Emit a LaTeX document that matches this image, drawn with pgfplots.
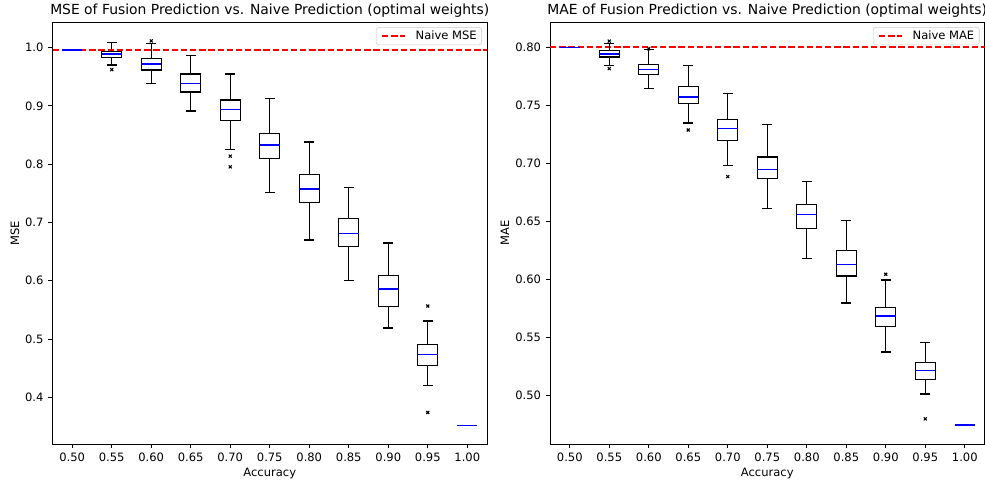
\documentclass[border=0pt]{standalone}
\usepackage{pgfplots}
\pgfplotsset{compat=1.18}
\usepgfplotslibrary{statistics}
\usepackage{fontspec}
\setmainfont{DejaVu Sans}

% one px of the 985x484 reference = 0.72pt
\newcommand{\tickfont}{\fontsize{8.3}{10}\selectfont}
\pgfplotsset{
  panel/.style={
    scale only axis, width=312.84pt, height=303.84pt,
    xmin=-0.5, xmax=10.5,
    xtick={0,...,10},
    xticklabels={0.50,0.55,0.60,0.65,0.70,0.75,0.80,0.85,0.90,0.95,1.00},
    tick align=outside, major tick length=2.9pt,
    xtick pos=bottom, ytick pos=left,
    tick style={black, line width=0.66pt},
    axis line style={line width=0.66pt},
    /pgf/number format/assume math mode=true,
    xticklabel style={font=\tickfont, anchor=base, inner sep=0pt, yshift=-9.6pt},
    yticklabel style={font=\tickfont, anchor=east, inner sep=0pt, xshift=-3.4pt},
    every axis title/.style={at={(axis description cs:0.5,1)}, anchor=base,
      yshift=5.2pt, font=\fontsize{10}{12}\selectfont},
    every axis x label/.style={at={(axis description cs:0.5,0)}, anchor=base,
      yshift=-23.5pt, font=\tickfont},
    xlabel={Accuracy},
    legend style={at={(axis description cs:0.9885,0.988)}, anchor=north east,
      draw=black!20, rounded corners=2pt, fill=white, fill opacity=0.8, text opacity=1,
      font=\tickfont, inner xsep=3.6pt, inner ysep=2.4pt,
      nodes={inner sep=0pt}, column sep=0pt},
    legend image code/.code={\draw[##1] (0pt,0pt) -- (16.6pt,0pt); \path (23.6pt,0pt);},
    boxplot/draw direction=y,
    boxplot/box extend=0.5,
    boxplot/whisker extend=0.25,
    boxplot/every box/.style={draw=black, line width=0.83pt},
    boxplot/every whisker/.style={draw=black, line width=0.83pt},
    boxplot/every median/.style={draw=blue, line width=1.1pt},
  },
  bp/.style n args={6}{
    black, line width=0.83pt, mark=x, mark size=1.5pt, forget plot,
    mark options={black, line width=0.8pt},
    boxplot/draw direction=y,
    boxplot prepared={draw position=#1, lower whisker=#2, lower quartile=#3,
      median=#4, upper quartile=#5, upper whisker=#6},
  },
  naive/.style={red, line width=1.25pt, dash pattern=on 4.6pt off 2pt},
  flatline/.style={blue, line width=1.1pt, forget plot},
}

\begin{document}
\begin{tikzpicture}
\useasboundingbox (0,0) rectangle (709.2pt,348.48pt);

\begin{axis}[panel, at={(37.8pt,28.8pt)}, anchor=south west,
  ymin=0.320, ymax=1.044,
  ytick={0.4,0.5,0.6,0.7,0.8,0.9,1.0},
  yticklabel style={/pgf/number format/.cd, fixed, fixed zerofill, precision=1},
  ylabel={MSE},
  every axis y label/.style={at={(axis description cs:-0.0863,0.5)}, rotate=90,
    anchor=center, font=\tickfont},
  title={MSE of Fusion Prediction vs. Naive Prediction (optimal weights)},
]
\addplot[naive] coordinates {(-0.5,0.996) (10.5,0.996)};
\addlegendentry{Naive MSE}
\addplot[flatline] coordinates {(-0.25,0.996) (0.25,0.996)};
\addplot[bp={1}{0.9703}{0.9828}{0.9887}{0.9931}{1.0086}] coordinates {(1,0.9622)};
\addplot[bp={2}{0.9388}{0.9617}{0.9715}{0.9818}{1.0064}] coordinates {(2,1.0115)};
\addplot[bp={3}{0.8912}{0.9239}{0.9381}{0.9548}{0.9863}] coordinates {};
\addplot[bp={4}{0.8247}{0.8753}{0.8935}{0.9101}{0.9548}] coordinates {(4,0.8139) (4,0.7955)};
\addplot[bp={5}{0.7509}{0.8093}{0.8328}{0.8534}{0.9124}] coordinates {};
\addplot[bp={6}{0.6701}{0.7337}{0.7577}{0.7825}{0.8380}] coordinates {};
\addplot[bp={7}{0.6009}{0.6588}{0.6811}{0.7069}{0.7601}] coordinates {};
\addplot[bp={8}{0.5189}{0.5557}{0.5859}{0.6089}{0.6649}] coordinates {};
\addplot[bp={9}{0.4199}{0.4553}{0.4737}{0.4914}{0.5309}] coordinates {(9,0.5567) (9,0.3740)};
\addplot[flatline] coordinates {(9.75,0.3517) (10.25,0.3517)};
\end{axis}

\begin{axis}[panel, at={(396pt,28.8pt)}, anchor=south west,
  ymin=0.4585, ymax=0.8215,
  ytick={0.50,0.55,0.60,0.65,0.70,0.75,0.80},
  yticklabel style={/pgf/number format/.cd, fixed, fixed zerofill, precision=2},
  ylabel={MAE},
  every axis y label/.style={at={(axis description cs:-0.1036,0.5)}, rotate=90,
    anchor=center, font=\tickfont},
  title={MAE of Fusion Prediction vs. Naive Prediction (optimal weights)},
]
\addplot[naive] coordinates {(-0.5,0.7997) (10.5,0.7997)};
\addlegendentry{Naive MAE}
\addplot[flatline] coordinates {(-0.25,0.7997) (0.25,0.7997)};
\addplot[bp={1}{0.7843}{0.7914}{0.7940}{0.7968}{0.8028}] coordinates {(1,0.8051) (1,0.7814)};
\addplot[bp={2}{0.7646}{0.7760}{0.7805}{0.7848}{0.7975}] coordinates {(2,0.7985)};
\addplot[bp={3}{0.7346}{0.7511}{0.7571}{0.7663}{0.7840}] coordinates {(3,0.7286)};
\addplot[bp={4}{0.6982}{0.7194}{0.7299}{0.7374}{0.7600}] coordinates {(4,0.6885)};
\addplot[bp={5}{0.6613}{0.6868}{0.6945}{0.7054}{0.7331}] coordinates {};
\addplot[bp={6}{0.6179}{0.6439}{0.6559}{0.6645}{0.6842}] coordinates {};
\addplot[bp={7}{0.5798}{0.6030}{0.6130}{0.6250}{0.6510}] coordinates {};
\addplot[bp={8}{0.5376}{0.5596}{0.5684}{0.5762}{0.5996}] coordinates {(8,0.6045)};
\addplot[bp={9}{0.5015}{0.5138}{0.5219}{0.5287}{0.5455}] coordinates {(9,0.4801)};
\addplot[flatline] coordinates {(9.75,0.4750) (10.25,0.4750)};
\end{axis}
\end{tikzpicture}
\end{document}
